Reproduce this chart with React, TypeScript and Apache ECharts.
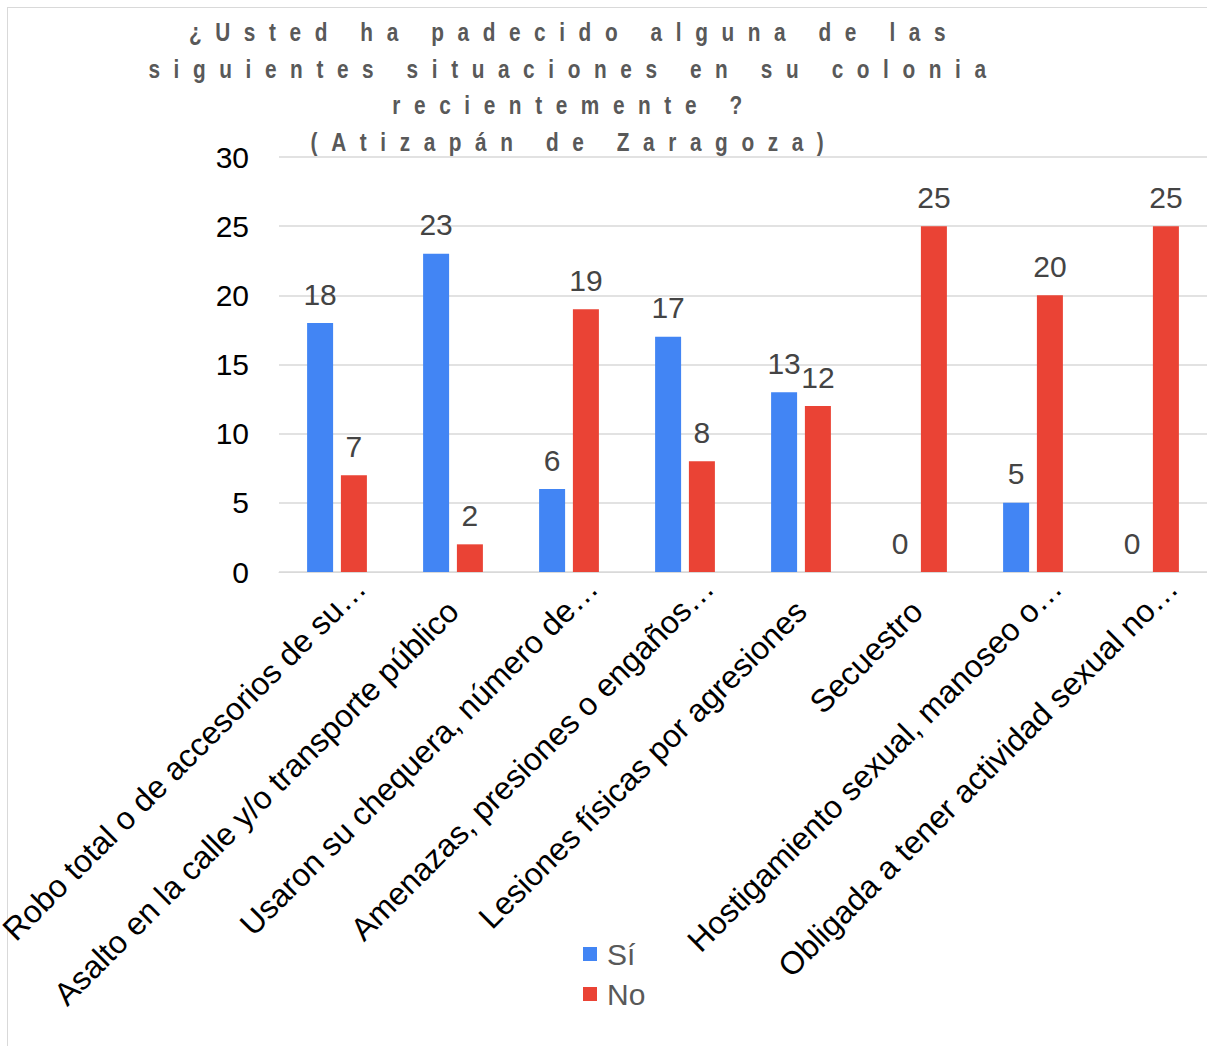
import React, { useEffect, useRef } from "react";
import * as echarts from "echarts";

const categories = [
  "Robo total o de accesorios de su…",
  "Asalto en la calle y/o transporte público",
  "Usaron su chequera, número de…",
  "Amenazas, presiones o engaños…",
  "Lesiones físicas por agresiones",
  "Secuestro",
  "Hostigamiento sexual, manoseo o…",
  "Obligada a tener actividad sexual no…",
];
const siValues = [18, 23, 6, 17, 13, 0, 5, 0];
const noValues = [7, 2, 19, 8, 12, 25, 20, 25];
const seriesNames = ["Sí", "No"];
const titleLines = [
  "¿Usted ha padecido alguna de las",
  "siguientes situaciones en su colonia",
  "recientemente ?",
  "(Atizapán de Zaragoza)",
];
const yTicks = { min: 0, max: 30, interval: 5 };

const FONT = "'Liberation Sans', Arial, Helvetica, sans-serif";

export default function App() {
  const ref = useRef<HTMLDivElement>(null);
  useEffect(() => {
    if (!ref.current) return;
    const chart = echarts.init(ref.current, null, { renderer: "svg" });
    const titleY = [32, 69, 105.5, 142];
    const categoryData = categories.map((c) =>
      c.endsWith("…") ? { value: c, textStyle: { padding: [0, -33, 0, 0] } } : { value: c }
    );
    const option: any = {
      animation: false,
      backgroundColor: "transparent",
      textStyle: { fontFamily: FONT },
      graphic: titleLines.map((t, i) => ({
        type: "text",
        x: 574,
        y: titleY[i],
        scaleX: 0.8,
        style: {
          text: t,
          fill: "#595959",
          font: `bold 26px ${FONT}`,
          textAlign: "center",
          textVerticalAlign: "middle",
        },
      })),
      legend: {
        orient: "vertical",
        left: 578,
        top: 934,
        itemWidth: 14,
        itemHeight: 14,
        itemGap: 10,
        icon: "rect",
        textStyle: { fontSize: 30, color: "#595959", fontFamily: FONT, padding: [0, 0, 0, 5] },
        data: seriesNames,
      },
      grid: { left: 279, right: 0, top: 157, bottom: 474, containLabel: false, outerBoundsMode: "none" },
      xAxis: {
        type: "category",
        data: categoryData,
        axisLine: { show: true, lineStyle: { color: "#d9d9d9" } },
        axisTick: { show: false },
        axisLabel: {
          interval: 0,
          rotate: 45,
          margin: 34,
          fontSize: 32,
          color: "#000000",
          fontFamily: FONT,
        },
      },
      yAxis: {
        type: "value",
        min: yTicks.min,
        max: yTicks.max,
        interval: yTicks.interval,
        axisLine: { show: false },
        axisTick: { show: false },
        splitLine: { lineStyle: { color: "#d9d9d9", width: 1.5 } },
        axisLabel: { fontSize: 30, color: "#000000", margin: 30, fontFamily: FONT },
      },
      series: [
        {
          name: seriesNames[0],
          type: "bar",
          data: siValues,
          barWidth: 26,
          barGap: "30%",
          itemStyle: { color: "#4285F4" },
          label: { show: true, position: "top", distance: 14, fontSize: 30, color: "#444444", fontFamily: FONT },
        },
        {
          name: seriesNames[1],
          type: "bar",
          data: noValues,
          barWidth: 26,
          barGap: "30%",
          itemStyle: { color: "#EA4335" },
          label: { show: true, position: "top", distance: 14, fontSize: 30, color: "#444444", fontFamily: FONT },
        },
      ],
    };
    chart.setOption(option);
    const applySpacing = () => {
      const el = ref.current;
      if (!el) return;
      el.querySelectorAll("text").forEach((t) => {
        if (titleLines.includes((t.textContent || "").trim())) {
          (t as SVGTextElement).style.letterSpacing = "17px";
        }
      });
    };
    applySpacing();
    chart.on("finished", applySpacing);
    const raf = requestAnimationFrame(applySpacing);
    return () => {
      cancelAnimationFrame(raf);
      chart.dispose();
    };
  }, []);
  return (
    <div style={{ position: "absolute", left: 0, top: 0, width: 1207, height: 1046, overflow: "hidden", background: "#fff" }}>
      <div
        style={{
          position: "absolute",
          left: 7,
          top: 7,
          width: 1230,
          height: 1060,
          border: "1px solid #d9d9d9",
          boxSizing: "border-box",
        }}
      />
      <div ref={ref} style={{ position: "absolute", left: 0, top: 0, width: 1207, height: 1046 }} />
    </div>
  );
}
